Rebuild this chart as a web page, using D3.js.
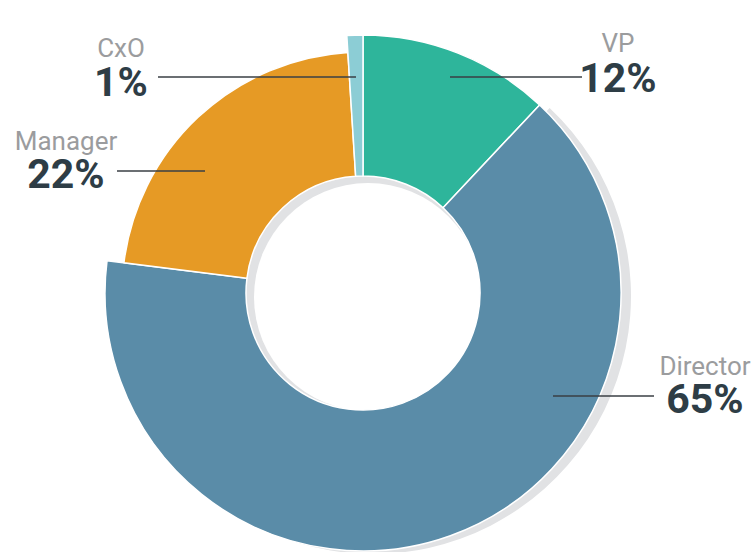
<!DOCTYPE html>
<html>
<head>
<meta charset="utf-8">
<script src="https://cdn.jsdelivr.net/npm/d3@7"></script>
<style>
  body { margin: 0; background: #fff; }
  svg { display: block; font-family: Roboto, "Noto Sans", sans-serif; }
</style>
</head>
<body>
<div id="chart"></div>
<script>
// data
const categories = ["VP", "Director", "Manager", "CxO"];
const shares = [12, 65, 22, 1];
const colors = ["#2eb59b", "#5a8ca8", "#e69a25", "#8ccdd5"];

// 1. size and centre of the donut
const width = 756, height = 552;
const cx = 363, cy = 293;
const innerR = 117, outerR = 258;
const smallR = { Manager: 241 };   // manager slice is drawn a bit shorter
const shadowDx = 10, shadowDy = 3;

// label placement (centre of text, baseline of name / value, leader line)
const labelPos = {
  VP:       { x: 618, name: 52,  value: 92,  line: 77,  from: 450, to: 582 },
  CxO:      { x: 121, name: 57,  value: 96,  line: 77,  from: 356, to: 158 },
  Manager:  { x: 66,  name: 150, value: 188, line: 171, from: 205, to: 117 },
  Director: { x: 705, name: 375, value: 413, line: 396, from: 553, to: 654 }
};

const data = categories.map((c, i) => ({ name: c, value: shares[i], color: colors[i] }));

const svg = d3.select("#chart")
  .append("svg")
  .attr("width", width)
  .attr("height", height);

const g = svg.append("g").attr("transform", `translate(${cx}, ${cy})`);

const pie = d3.pie().sort(null).value((d) => d.value);
const arcs = pie(data);

const arc = d3.arc()
  .innerRadius(innerR)
  .outerRadius((d) => smallR[d.data.name] || outerR);

// 2. grey shadow behind the director slice
g.append("path")
  .datum(arcs.find((d) => d.data.name === "Director"))
  .attr("transform", `translate(${shadowDx}, ${shadowDy})`)
  .attr("d", arc)
  .attr("fill", "#e1e2e4");

// 2A. shadow inside the hole
g.append("circle").attr("r", innerR).attr("fill", "#e1e2e4");
g.append("circle")
  .attr("cx", 5).attr("cy", 4)
  .attr("r", innerR - 3)
  .attr("fill", "#fff");

// 3. slices
g.selectAll(".slice")
  .data(arcs)
  .enter()
  .append("path")
  .attr("class", "slice")
  .attr("d", arc)
  .attr("fill", (d) => d.data.color)
  .attr("stroke", "#fff")
  .attr("stroke-width", 1.5)
  .attr("stroke-linejoin", "round");

// 4. labels and leader lines
const labels = svg.selectAll(".label")
  .data(data)
  .enter()
  .append("g")
  .attr("class", "label");

labels.append("line")
  .attr("x1", (d) => labelPos[d.name].from)
  .attr("x2", (d) => labelPos[d.name].to)
  .attr("y1", (d) => labelPos[d.name].line)
  .attr("y2", (d) => labelPos[d.name].line)
  .attr("stroke", "#3a3f44")
  .attr("stroke-width", 1.3);

labels.append("text")
  .attr("x", (d) => labelPos[d.name].x)
  .attr("y", (d) => labelPos[d.name].name)
  .attr("text-anchor", "middle")
  .attr("font-size", 26)
  .attr("fill", "#9b9c9e")
  .text((d) => d.name);

labels.append("text")
  .attr("x", (d) => labelPos[d.name].x)
  .attr("y", (d) => labelPos[d.name].value)
  .attr("text-anchor", "middle")
  .attr("font-size", 41)
  .attr("font-weight", "bold")
  .attr("fill", "#2e3d46")
  .text((d) => `${d.value}%`);
</script>
</body>
</html>
